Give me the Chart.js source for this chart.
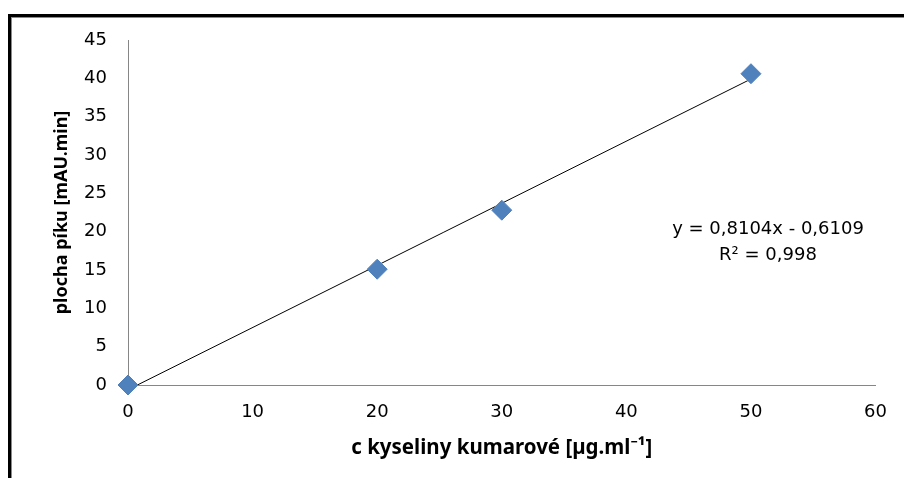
<!DOCTYPE html>
<html>
<head>
<meta charset="utf-8">
<script src="https://cdn.jsdelivr.net/npm/chart.js@4.4.0/dist/chart.umd.min.js"></script>
<style>
  html, body { margin: 0; padding: 0; background: #fff; }
  #wrap { position: relative; width: 904px; height: 478px; overflow: hidden; }
  canvas { position: absolute; left: 0; top: 0; }
  .frame-outer { position: absolute; left: 8px; top: 14px; right: -10px; bottom: -10px;
    border-left: 3px solid #000; border-top: 3px solid #000; }
  .frame-inner { position: absolute; left: 11px; top: 17px; right: -10px; bottom: -10px;
    border-left: 1px solid #8a8a8a; border-top: 1px solid #8a8a8a; }
</style>
</head>
<body>
<div id="wrap">
  <canvas id="chart" width="904" height="478"></canvas>
  <div class="frame-outer"></div>
  <div class="frame-inner"></div>
</div>
<script>
// calibration points
const concentrations = [0, 20, 30, 50];
const peakAreas = [0, 15.1, 22.8, 40.6];

// linear fit as reported
const slope = 0.8104;
const intercept = -0.6109;
const rSquared = '0,998';
const fitRange = [0, 50];

const tickFont = "'DejaVu Sans', sans-serif";
const titleFont = "'Noto Sans', sans-serif";
const axisGray = '#868686';

const trendPoints = fitRange.map(x => ({ x: x, y: slope * x + intercept }));

const equationLabel = {
  id: 'equationLabel',
  afterDraw(chart) {
    const ctx = chart.ctx;
    ctx.save();
    ctx.fillStyle = '#000';
    ctx.font = "18px " + tickFont;
    ctx.textAlign = 'center';
    ctx.textBaseline = 'middle';
    const eq = 'y = ' + slope.toString().replace('.', ',') + 'x - ' +
      Math.abs(intercept).toString().replace('.', ',');
    ctx.fillText(eq, 768, 229);
    ctx.fillText('R² = ' + rSquared, 768, 255);
    ctx.restore();
  }
};

new Chart(document.getElementById('chart').getContext('2d'), {
  type: 'scatter',
  data: {
    datasets: [
      {
        label: 'trend',
        data: trendPoints,
        showLine: true,
        borderColor: '#000',
        borderWidth: 1,
        pointRadius: 0,
        clip: 0,
        order: 2
      },
      {
        label: 'plocha',
        data: concentrations.map((c, i) => ({ x: c, y: peakAreas[i] })),
        pointStyle: 'rectRot',
        pointRadius: 10,
        backgroundColor: '#4F81BD',
        borderColor: '#4F81BD',
        borderWidth: 1,
        clip: false,
        order: 1
      }
    ]
  },
  options: {
    responsive: false,
    animation: false,
    layout: { padding: { left: 0, right: 28, top: 40, bottom: 0 } },
    plugins: {
      legend: { display: false },
      tooltip: { enabled: false }
    },
    scales: {
      x: {
        type: 'linear',
        min: 0,
        max: 60,
        afterFit(scale) { scale.height = 93; },
        grid: { display: false, drawTicks: false },
        border: { display: true, color: axisGray, width: 1 },
        ticks: { stepSize: 10, padding: 17, color: '#000', font: { family: tickFont, size: 18 } },
        title: {
          display: true,
          text: 'c kyseliny kumarové [µg.ml⁻¹]',
          color: '#000',
          font: { family: titleFont, size: 20.5, weight: 'bold' },
          padding: { top: 0, bottom: 18 }
        }
      },
      y: {
        min: 0,
        max: 45,
        afterFit(scale) { scale.width = 128; },
        grid: { display: false, drawTicks: false },
        border: { display: true, color: axisGray, width: 1 },
        ticks: { stepSize: 5, padding: 21, color: '#000', font: { family: tickFont, size: 18 } },
        title: {
          display: true,
          text: 'plocha píku [mAU.min]',
          color: '#000',
          font: { family: titleFont, size: 18, weight: 'bold' },
          padding: { top: 51, bottom: 0 }
        }
      }
    }
  },
  plugins: [equationLabel]
});
</script>
</body>
</html>
